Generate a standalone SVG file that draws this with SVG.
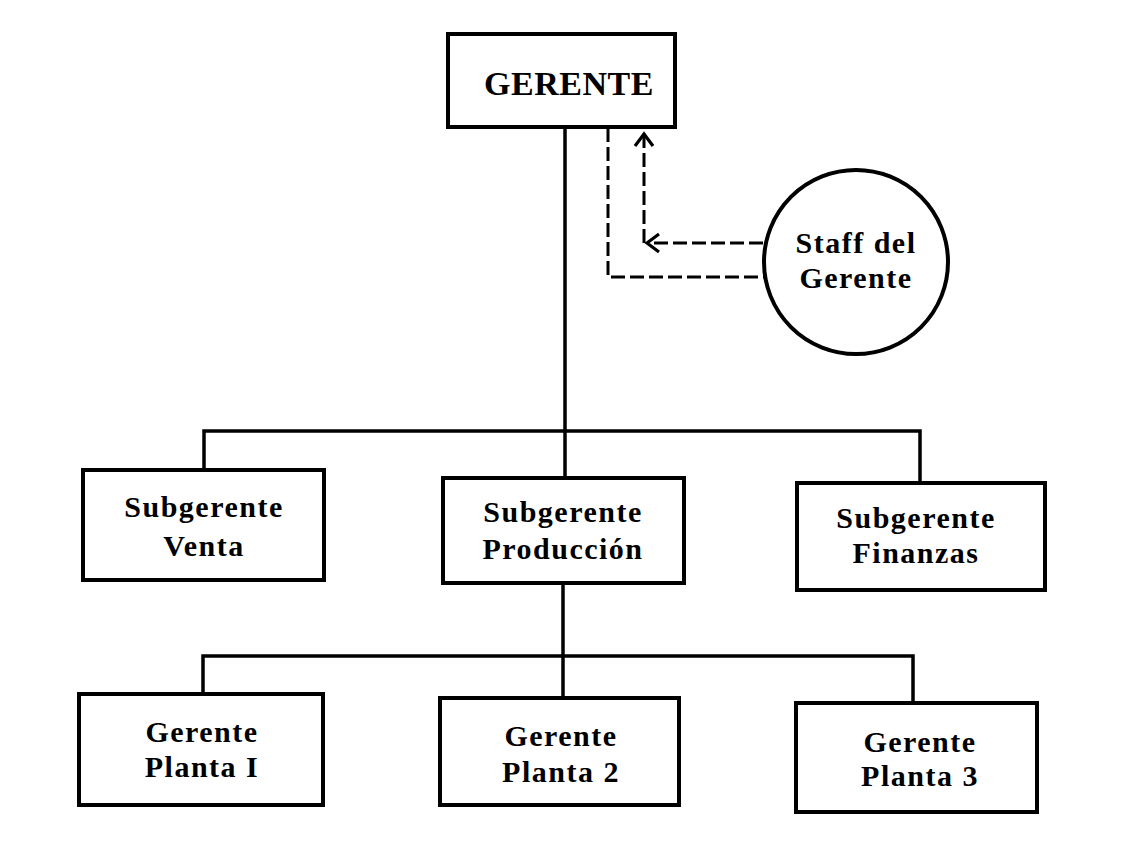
<svg xmlns="http://www.w3.org/2000/svg" width="1132" height="844" viewBox="0 0 1132 844">
<style>
.box{fill:#fff;stroke:#000;stroke-width:4}
.ln{fill:none;stroke:#000;stroke-width:3.5}
.dash{fill:none;stroke:#000;stroke-width:3;stroke-dasharray:14 5}
.t{font-family:"Liberation Serif",serif;font-weight:bold;font-size:30px;letter-spacing:1.5px;text-anchor:middle;fill:#000}
.big{font-size:34px;letter-spacing:0.5px}
</style>
<defs>
<marker id="arr" markerWidth="24" markerHeight="24" refX="14" refY="10" orient="auto" markerUnits="userSpaceOnUse" overflow="visible">
<path d="M2,1 L14,10 L2,19" fill="none" stroke="#000" stroke-width="3.2" stroke-dasharray="none"/>
</marker>
</defs>
<rect width="1132" height="844" fill="#fff"/>
<g id="connectors">
<path class="ln" d="M565,127 V478"/>
<path class="ln" d="M204,470 V431 H920 V483"/>
<path class="ln" d="M563,583 V698"/>
<path class="ln" d="M203,694 V656 H913 V703"/>
<path class="dash" d="M608,128 V277 H766"/>
<path class="dash" d="M763,243 H647" marker-end="url(#arr)"/>
<path class="dash" d="M644,243 V134" marker-end="url(#arr)"/>
</g>
<g id="gerente">
<rect class="box" x="448" y="34" width="227" height="93"/>
<text class="t big" x="569" y="95">GERENTE</text>
</g>
<g id="staff">
<circle cx="856" cy="262" r="92" fill="#fff" stroke="#000" stroke-width="4"/>
<text class="t" x="856" y="253">Staff del</text>
<text class="t" x="856" y="288">Gerente</text>
</g>
<g id="sub-venta">
<rect class="box" x="83" y="470" width="241" height="110"/>
<text class="t" x="204" y="517">Subgerente</text>
<text class="t" x="204" y="556">Venta</text>
</g>
<g id="sub-produccion">
<rect class="box" x="443" y="478" width="241" height="105"/>
<text class="t" x="563" y="522">Subgerente</text>
<text class="t" x="563" y="559">Producción</text>
</g>
<g id="sub-finanzas">
<rect class="box" x="797" y="483" width="248" height="107"/>
<text class="t" x="916" y="528">Subgerente</text>
<text class="t" x="916" y="563">Finanzas</text>
</g>
<g id="planta1">
<rect class="box" x="79" y="694" width="244" height="111"/>
<text class="t" x="202" y="742">Gerente</text>
<text class="t" x="202" y="777">Planta I</text>
</g>
<g id="planta2">
<rect class="box" x="440" y="698" width="239" height="107"/>
<text class="t" x="561" y="746">Gerente</text>
<text class="t" x="561" y="782">Planta 2</text>
</g>
<g id="planta3">
<rect class="box" x="796" y="703" width="241" height="109"/>
<text class="t" x="920" y="752">Gerente</text>
<text class="t" x="920" y="786">Planta 3</text>
</g>
</svg>
